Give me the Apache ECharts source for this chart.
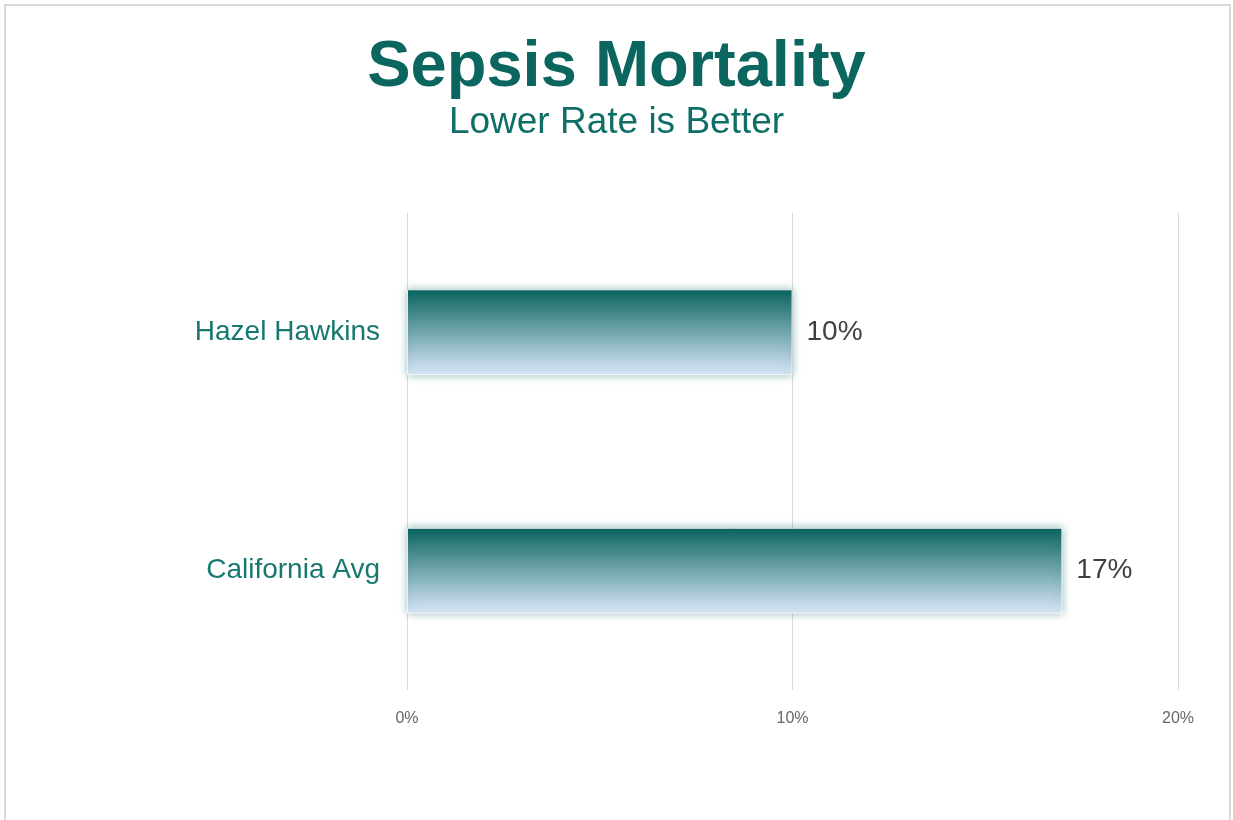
<!DOCTYPE html>
<html>
<head>
<meta charset="utf-8">
<script src="https://cdn.jsdelivr.net/npm/echarts@6/dist/echarts.min.js"></script>
<style>
  html, body { margin: 0; padding: 0; background: #fff; }
  #chart { width: 1233px; height: 820px; }
</style>
</head>
<body>
<div id="chart"></div>
<script>
// data
var categories = ['Hazel Hawkins', 'California Avg']
var values = [10, 17]
var xTicks = [0, 10, 20]

var chart = echarts.init(document.getElementById('chart'))

var option = {
  backgroundColor: '#fff',
  animation: false,
  title: [
    {
      text: 'Sepsis Mortality',
      left: 'center',
      top: 31,
      textStyle: { fontFamily: 'Liberation Sans', fontSize: 65, fontWeight: 'bold', color: '#0a665f' }
    },
    {
      text: 'Lower Rate is Better',
      left: 'center',
      top: 99,
      textStyle: { fontFamily: 'Liberation Sans', fontSize: 37, fontWeight: 'normal', color: '#0f6e66' }
    }
  ],
  graphic: [
    {
      type: 'rect',
      shape: { x: 5, y: 5, width: 1225, height: 830 },
      style: { fill: 'none', stroke: '#d9d9d9', lineWidth: 2 },
      silent: true
    }
  ],
  grid: { left: 407, right: 55, top: 213, bottom: 130 },
  xAxis: {
    type: 'value',
    min: xTicks[0],
    max: xTicks[xTicks.length - 1],
    interval: 10,
    axisLine: { show: false },
    axisTick: { show: false },
    splitLine: { show: true, lineStyle: { color: '#d9d9d9', width: 1 } },
    axisLabel: {
      formatter: '{value}%',
      color: '#666666',
      fontFamily: 'Liberation Sans',
      fontSize: 16,
      margin: 21
    }
  },
  yAxis: {
    type: 'category',
    data: categories,
    inverse: true,
    axisLine: { show: false },
    axisTick: { show: false },
    axisLabel: {
      color: '#177870',
      fontFamily: 'Liberation Sans',
      fontSize: 28,
      margin: 27
    }
  },
  series: [
    {
      type: 'bar',
      data: values,
      barWidth: '36%',
      itemStyle: {
        color: new echarts.graphic.LinearGradient(0, 0, 0, 1, [
          { offset: 0, color: '#0a635d' },
          { offset: 0.5, color: '#72a7ad' },
          { offset: 1, color: '#dde9fa' }
        ]),
        borderColor: 'rgba(255,255,255,0.8)',
        borderWidth: 1,
        shadowBlur: 8,
        shadowColor: 'rgba(10,100,95,0.45)'
      },
      label: {
        show: true,
        position: 'right',
        distance: 14,
        formatter: '{c}%',
        color: '#404040',
        fontFamily: 'Liberation Sans',
        fontSize: 28
      }
    }
  ]
}

chart.setOption(option)
window.addEventListener('resize', function () {
  chart.resize()
})
</script>
</body>
</html>
